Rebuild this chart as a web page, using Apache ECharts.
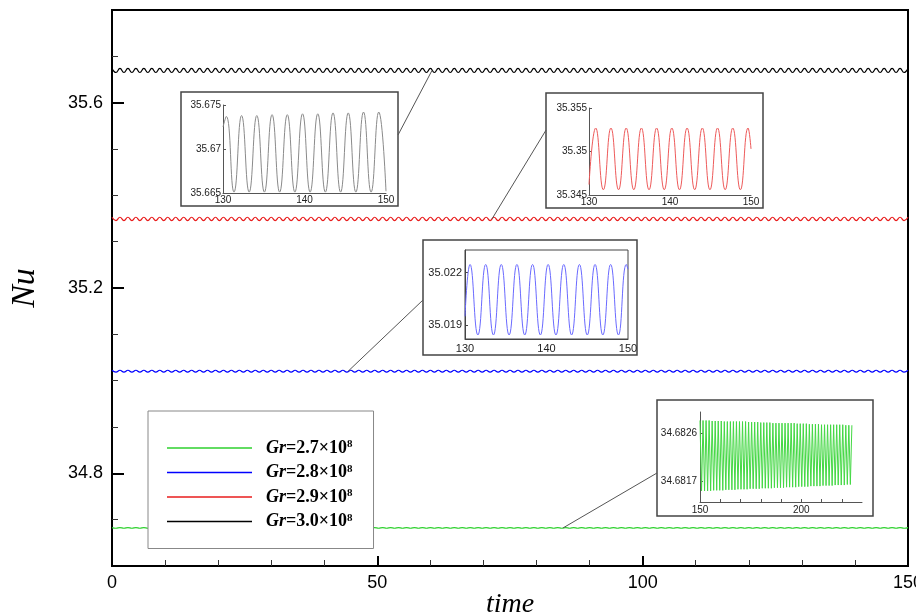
<!DOCTYPE html>
<html><head><meta charset="utf-8">
<script src="https://cdn.jsdelivr.net/npm/echarts@6/dist/echarts.min.js"></script>
<style>html,body{margin:0;padding:0;background:#fff}#c{width:916px;height:614px}</style>
</head><body><div id="c"></div>
<script>
// ---------- DATA ----------
const seriesNames = ['Gr=2.7×10^8', 'Gr=2.8×10^8', 'Gr=2.9×10^8', 'Gr=3.0×10^8'];
const grLabels = ['2.7', '2.8', '2.9', '3.0'];

const mainXTicks = [0, 50, 100, 150];
const mainYLabels = [34.8, 35.2, 35.6];
const mainYMinor = [34.7, 34.9, 35.0, 35.1, 35.3, 35.4, 35.5, 35.7];

const mainTime = [
0,0.75,1.5,2.25,3,3.75,4.5,5.25,
6,6.75,7.5,8.25,9,9.75,10.5,11.25,
12,12.75,13.5,14.25,15,15.75,16.5,17.25,
18,18.75,19.5,20.25,21,21.75,22.5,23.25,
24,24.75,25.5,26.25,27,27.75,28.5,29.25,
30,30.75,31.5,32.25,33,33.75,34.5,35.25,
36,36.75,37.5,38.25,39,39.75,40.5,41.25,
42,42.75,43.5,44.25,45,45.75,46.5,47.25,
48,48.75,49.5,50.25,51,51.75,52.5,53.25,
54,54.75,55.5,56.25,57,57.75,58.5,59.25,
60,60.75,61.5,62.25,63,63.75,64.5,65.25,
66,66.75,67.5,68.25,69,69.75,70.5,71.25,
72,72.75,73.5,74.25,75,75.75,76.5,77.25,
78,78.75,79.5,80.25,81,81.75,82.5,83.25,
84,84.75,85.5,86.25,87,87.75,88.5,89.25,
90,90.75,91.5,92.25,93,93.75,94.5,95.25,
96,96.75,97.5,98.25,99,99.75,100.5,101.25,
102,102.75,103.5,104.25,105,105.75,106.5,107.25,
108,108.75,109.5,110.25,111,111.75,112.5,113.25,
114,114.75,115.5,116.25,117,117.75,118.5,119.25,
120,120.75,121.5,122.25,123,123.75,124.5,125.25,
126,126.75,127.5,128.25,129,129.75,130.5,131.25,
132,132.75,133.5,134.25,135,135.75,136.5,137.25,
138,138.75,139.5,140.25,141,141.75,142.5,143.25,
144,144.75,145.5,146.25,147,147.75,148.5,149.25,
150];

const greenMain = [
34.6828,34.6815,34.6828,34.6815,34.6828,34.6815,34.6828,34.6815,
34.6828,34.6815,34.6828,34.6815,34.6828,34.6815,34.6828,34.6815,
34.6828,34.6815,34.6828,34.6815,34.6828,34.6815,34.6828,34.6815,
34.6828,34.6815,34.6828,34.6815,34.6828,34.6815,34.6828,34.6815,
34.6828,34.6815,34.6828,34.6815,34.6828,34.6815,34.6828,34.6815,
34.6828,34.6815,34.6828,34.6815,34.6828,34.6815,34.6828,34.6815,
34.6828,34.6815,34.6828,34.6815,34.6828,34.6815,34.6828,34.6815,
34.6828,34.6815,34.6828,34.6815,34.6828,34.6815,34.6828,34.6815,
34.6828,34.6815,34.6828,34.6815,34.6828,34.6815,34.6828,34.6815,
34.6828,34.6815,34.6828,34.6815,34.6828,34.6815,34.6828,34.6815,
34.6828,34.6815,34.6828,34.6815,34.6828,34.6815,34.6828,34.6815,
34.6828,34.6815,34.6828,34.6815,34.6828,34.6815,34.6828,34.6815,
34.6828,34.6815,34.6828,34.6815,34.6828,34.6815,34.6828,34.6815,
34.6828,34.6815,34.6828,34.6815,34.6828,34.6815,34.6828,34.6815,
34.6828,34.6815,34.6828,34.6815,34.6828,34.6815,34.6828,34.6815,
34.6828,34.6815,34.6828,34.6815,34.6828,34.6815,34.6828,34.6815,
34.6828,34.6815,34.6828,34.6815,34.6828,34.6815,34.6828,34.6815,
34.6828,34.6815,34.6828,34.6815,34.6828,34.6815,34.6828,34.6815,
34.6828,34.6815,34.6828,34.6815,34.6828,34.6815,34.6828,34.6815,
34.6828,34.6815,34.6828,34.6815,34.6828,34.6815,34.6828,34.6815,
34.6828,34.6815,34.6828,34.6815,34.6828,34.6815,34.6828,34.6815,
34.6828,34.6815,34.6828,34.6815,34.6828,34.6815,34.6828,34.6815,
34.6828,34.6815,34.6828,34.6815,34.6828,34.6815,34.6828,34.6815,
34.6828,34.6815,34.6828,34.6815,34.6828,34.6815,34.6828,34.6815,
34.6828,34.6815,34.6828,34.6815,34.6828,34.6815,34.6828,34.6815,
34.6828];

const blueMain = [
35.0225,35.0184,35.0225,35.0184,35.0225,35.0184,35.0225,35.0184,
35.0225,35.0184,35.0225,35.0184,35.0225,35.0184,35.0225,35.0184,
35.0225,35.0184,35.0225,35.0184,35.0225,35.0184,35.0225,35.0184,
35.0225,35.0184,35.0225,35.0184,35.0225,35.0184,35.0225,35.0184,
35.0225,35.0184,35.0225,35.0184,35.0225,35.0184,35.0225,35.0184,
35.0225,35.0184,35.0225,35.0184,35.0225,35.0184,35.0225,35.0184,
35.0225,35.0184,35.0225,35.0184,35.0225,35.0184,35.0225,35.0184,
35.0225,35.0184,35.0225,35.0184,35.0225,35.0184,35.0225,35.0184,
35.0225,35.0184,35.0225,35.0184,35.0225,35.0184,35.0225,35.0184,
35.0225,35.0184,35.0225,35.0184,35.0225,35.0184,35.0225,35.0184,
35.0225,35.0184,35.0225,35.0184,35.0225,35.0184,35.0225,35.0184,
35.0225,35.0184,35.0225,35.0184,35.0225,35.0184,35.0225,35.0184,
35.0225,35.0184,35.0225,35.0184,35.0225,35.0184,35.0225,35.0184,
35.0225,35.0184,35.0225,35.0184,35.0225,35.0184,35.0225,35.0184,
35.0225,35.0184,35.0225,35.0184,35.0225,35.0184,35.0225,35.0184,
35.0225,35.0184,35.0225,35.0184,35.0225,35.0184,35.0225,35.0184,
35.0225,35.0184,35.0225,35.0184,35.0225,35.0184,35.0225,35.0184,
35.0225,35.0184,35.0225,35.0184,35.0225,35.0184,35.0225,35.0184,
35.0225,35.0184,35.0225,35.0184,35.0225,35.0184,35.0225,35.0184,
35.0225,35.0184,35.0225,35.0184,35.0225,35.0184,35.0225,35.0184,
35.0225,35.0184,35.0225,35.0184,35.0225,35.0184,35.0225,35.0184,
35.0225,35.0184,35.0225,35.0184,35.0225,35.0184,35.0225,35.0184,
35.0225,35.0184,35.0225,35.0184,35.0225,35.0184,35.0225,35.0184,
35.0225,35.0184,35.0225,35.0184,35.0225,35.0184,35.0225,35.0184,
35.0225,35.0184,35.0225,35.0184,35.0225,35.0184,35.0225,35.0184,
35.0225];

const redMain = [
35.3527,35.3456,35.3527,35.3456,35.3527,35.3456,35.3527,35.3456,
35.3527,35.3456,35.3527,35.3456,35.3527,35.3456,35.3527,35.3456,
35.3527,35.3456,35.3527,35.3456,35.3527,35.3456,35.3527,35.3456,
35.3527,35.3456,35.3527,35.3456,35.3527,35.3456,35.3527,35.3456,
35.3527,35.3456,35.3527,35.3456,35.3527,35.3456,35.3527,35.3456,
35.3527,35.3456,35.3527,35.3456,35.3527,35.3456,35.3527,35.3456,
35.3527,35.3456,35.3527,35.3456,35.3527,35.3456,35.3527,35.3456,
35.3527,35.3456,35.3527,35.3456,35.3527,35.3456,35.3527,35.3456,
35.3527,35.3456,35.3527,35.3456,35.3527,35.3456,35.3527,35.3456,
35.3527,35.3456,35.3527,35.3456,35.3527,35.3456,35.3527,35.3456,
35.3527,35.3456,35.3527,35.3456,35.3527,35.3456,35.3527,35.3456,
35.3527,35.3456,35.3527,35.3456,35.3527,35.3456,35.3527,35.3456,
35.3527,35.3456,35.3527,35.3456,35.3527,35.3456,35.3527,35.3456,
35.3527,35.3456,35.3527,35.3456,35.3527,35.3456,35.3527,35.3456,
35.3527,35.3456,35.3527,35.3456,35.3527,35.3456,35.3527,35.3456,
35.3527,35.3456,35.3527,35.3456,35.3527,35.3456,35.3527,35.3456,
35.3527,35.3456,35.3527,35.3456,35.3527,35.3456,35.3527,35.3456,
35.3527,35.3456,35.3527,35.3456,35.3527,35.3456,35.3527,35.3456,
35.3527,35.3456,35.3527,35.3456,35.3527,35.3456,35.3527,35.3456,
35.3527,35.3456,35.3527,35.3456,35.3527,35.3456,35.3527,35.3456,
35.3527,35.3456,35.3527,35.3456,35.3527,35.3456,35.3527,35.3456,
35.3527,35.3456,35.3527,35.3456,35.3527,35.3456,35.3527,35.3456,
35.3527,35.3456,35.3527,35.3456,35.3527,35.3456,35.3527,35.3456,
35.3527,35.3456,35.3527,35.3456,35.3527,35.3456,35.3527,35.3456,
35.3527,35.3456,35.3527,35.3456,35.3527,35.3456,35.3527,35.3456,
35.3527];

const blackMain = [
35.6740,35.6651,35.6740,35.6651,35.6740,35.6651,35.6740,35.6651,
35.6740,35.6651,35.6740,35.6651,35.6740,35.6651,35.6740,35.6651,
35.6740,35.6651,35.6740,35.6651,35.6740,35.6651,35.6740,35.6651,
35.6740,35.6651,35.6740,35.6651,35.6740,35.6651,35.6740,35.6651,
35.6740,35.6651,35.6740,35.6651,35.6740,35.6651,35.6740,35.6651,
35.6740,35.6651,35.6740,35.6651,35.6740,35.6651,35.6740,35.6651,
35.6740,35.6651,35.6740,35.6651,35.6740,35.6651,35.6740,35.6651,
35.6740,35.6651,35.6740,35.6651,35.6740,35.6651,35.6740,35.6651,
35.6740,35.6651,35.6740,35.6651,35.6740,35.6651,35.6740,35.6651,
35.6740,35.6651,35.6740,35.6651,35.6740,35.6651,35.6740,35.6651,
35.6740,35.6651,35.6740,35.6651,35.6740,35.6651,35.6740,35.6651,
35.6740,35.6651,35.6740,35.6651,35.6740,35.6651,35.6740,35.6651,
35.6740,35.6651,35.6740,35.6651,35.6740,35.6651,35.6740,35.6651,
35.6740,35.6651,35.6740,35.6651,35.6740,35.6651,35.6740,35.6651,
35.6740,35.6651,35.6740,35.6651,35.6740,35.6651,35.6740,35.6651,
35.6740,35.6651,35.6740,35.6651,35.6740,35.6651,35.6740,35.6651,
35.6740,35.6651,35.6740,35.6651,35.6740,35.6651,35.6740,35.6651,
35.6740,35.6651,35.6740,35.6651,35.6740,35.6651,35.6740,35.6651,
35.6740,35.6651,35.6740,35.6651,35.6740,35.6651,35.6740,35.6651,
35.6740,35.6651,35.6740,35.6651,35.6740,35.6651,35.6740,35.6651,
35.6740,35.6651,35.6740,35.6651,35.6740,35.6651,35.6740,35.6651,
35.6740,35.6651,35.6740,35.6651,35.6740,35.6651,35.6740,35.6651,
35.6740,35.6651,35.6740,35.6651,35.6740,35.6651,35.6740,35.6651,
35.6740,35.6651,35.6740,35.6651,35.6740,35.6651,35.6740,35.6651,
35.6740,35.6651,35.6740,35.6651,35.6740,35.6651,35.6740,35.6651,
35.6740];

// inset: Gr=3.0e8 (black)
const blackInsetTime = [130,130.41,131.35,132.28,133.21,134.15,135.08,136.02,136.95,137.89,138.82,139.76,140.69,141.63,142.56,143.5,144.43,145.37,146.3,147.24,148.17,149.11,150];
const blackInsetNu = [35.6725,35.6737,35.6651,35.6738,35.6651,35.6738,35.6651,35.6739,35.6651,35.6739,35.6651,35.6740,35.6651,35.6740,35.6651,35.6741,35.6651,35.6741,35.6651,35.6742,35.6651,35.6742,35.6652];

// inset: Gr=2.9e8 (red)
const redInsetTime = [130,130.83,131.77,132.71,133.65,134.59,135.53,136.47,137.41,138.35,139.29,140.23,141.17,142.11,143.05,143.99,144.93,145.87,146.81,147.75,148.69,149.63,150];
const redInsetNu = [35.3462,35.3527,35.3456,35.3527,35.3456,35.3527,35.3456,35.3527,35.3456,35.3527,35.3456,35.3527,35.3456,35.3527,35.3456,35.3527,35.3456,35.3527,35.3456,35.3527,35.3456,35.3527,35.3503];

// inset: Gr=2.8e8 (blue)
const blueInsetTime = [130,130.62,131.58,132.54,133.49,134.45,135.41,136.37,137.33,138.29,139.25,140.2,141.16,142.12,143.08,144.04,145.0,145.96,146.91,147.87,148.83,149.79,150];
const blueInsetNu = [35.0195,35.02247,35.01843,35.02247,35.01843,35.02247,35.01843,35.02247,35.01843,35.02247,35.01843,35.02247,35.01843,35.02247,35.01843,35.02247,35.01843,35.02247,35.01843,35.02247,35.01843,35.02247,35.0222];
const blueInsetYLabels = [35.019, 35.022];

// inset: Gr=2.7e8 (green)
const greenInsetTime = [
150,150.75,151.5,152.25,153,153.75,154.5,155.25,
156,156.75,157.5,158.25,159,159.75,160.5,161.25,
162,162.75,163.5,164.25,165,165.75,166.5,167.25,
168,168.75,169.5,170.25,171,171.75,172.5,173.25,
174,174.75,175.5,176.25,177,177.75,178.5,179.25,
180,180.75,181.5,182.25,183,183.75,184.5,185.25,
186,186.75,187.5,188.25,189,189.75,190.5,191.25,
192,192.75,193.5,194.25,195,195.75,196.5,197.25,
198,198.75,199.5,200.25,201,201.75,202.5,203.25,
204,204.75,205.5,206.25,207,207.75,208.5,209.25,
210,210.75,211.5,212.25,213,213.75,214.5,215.25,
216,216.75,217.5,218.25,219,219.75,220.5,221.25,
222,222.75,223.5,224.25,225];
const greenInsetNu = [
34.68284,34.68151,34.68284,34.68151,34.68284,34.68151,34.68284,34.68151,
34.68283,34.68152,34.68283,34.68152,34.68283,34.68152,34.68283,34.68152,
34.68282,34.68153,34.68282,34.68153,34.68282,34.68153,34.68282,34.68153,
34.68282,34.68154,34.68282,34.68154,34.68282,34.68154,34.68282,34.68154,
34.68281,34.68155,34.68281,34.68155,34.68281,34.68155,34.68281,34.68155,
34.68280,34.68156,34.68280,34.68156,34.68280,34.68156,34.68280,34.68156,
34.68279,34.68157,34.68279,34.68157,34.68279,34.68157,34.68279,34.68157,
34.68279,34.68158,34.68279,34.68158,34.68279,34.68158,34.68279,34.68158,
34.68278,34.68159,34.68278,34.68159,34.68278,34.68159,34.68278,34.68159,
34.68277,34.68160,34.68277,34.68160,34.68277,34.68160,34.68277,34.68160,
34.68276,34.68161,34.68276,34.68161,34.68276,34.68161,34.68276,34.68161,
34.68276,34.68162,34.68276,34.68162,34.68276,34.68162,34.68276,34.68162,
34.68275,34.68163,34.68275,34.68163,34.68275];
const greenInsetXLabels = [150, 200];
const greenInsetXTicks = [150,160,170,180,190,200,210,220];
const greenInsetYLabels = [34.6817, 34.6826];

// connector lines: [curve point, inset-box point] in main-axis data coords
const connBlack = [[60.3, 35.6695], [53.9, 35.5302]];
const connRed   = [[71.6, 35.3490], [81.8, 35.5410]];
const connBlue  = [[44.5, 35.0204], [58.6, 35.1740]];
const connGreen = [[85.0, 34.6822], [102.7, 34.8007]];

// ---------- STYLE / BUILD ----------
const SANS = 'Liberation Sans, Arial, sans-serif';
const SERIF = 'Liberation Serif, Times New Roman, serif';
const mainColors = ['#2ed12e', '#0000ff', '#e81c1c', '#000000'];
const zip = (xs, ys) => xs.map((x, i) => [x, ys[i]]);
const fmt = d => v => String(+(+v).toFixed(d));

function conn(c) {
  return {
    silent: true, symbol: ['none', 'none'], label: {show: false},
    lineStyle: {color: '#555', width: 1, type: 'solid'},
    emphasis: {disabled: true},
    data: [[{coord: c[0]}, {coord: c[1]}]]
  };
}
function insetX(gi, min, max, extra) {
  return Object.assign({
    gridIndex: gi, type: 'value', min: min, max: max, interval: 10, z: 3,
    axisLine: {show: true, lineStyle: {color: '#555', width: 1}},
    axisTick: {show: false},
    axisLabel: {fontFamily: SANS, fontSize: 10, color: '#222', margin: 2},
    splitLine: {show: false}
  }, extra || {});
}
function insetY(gi, min, max, extra) {
  return Object.assign({
    gridIndex: gi, type: 'value', min: min, max: max, z: 3,
    axisLine: {show: true, lineStyle: {color: '#555', width: 1}},
    axisTick: {show: true, inside: true, length: 3, lineStyle: {color: '#555'}},
    axisLabel: {fontFamily: SANS, fontSize: 10, color: '#222', margin: 2},
    splitLine: {show: false}
  }, extra || {});
}

const chart = echarts.init(document.getElementById('c'), null, {renderer: 'canvas'});
const option = {
  animation: false,
  backgroundColor: '#fff',
  grid: [
    {left: 112, top: 10, width: 796, height: 556, show: true, borderColor: '#000', borderWidth: 2, backgroundColor: 'transparent', outerBoundsMode: 'none', containLabel: false},
    {left: 223, top: 105, width: 163, height: 88, z: 3, outerBoundsMode: 'none'},
    {left: 589, top: 108, width: 162, height: 87, z: 3, outerBoundsMode: 'none'},
    {left: 465, top: 250, width: 163, height: 89, z: 3, show: true, borderColor: '#444', borderWidth: 1, backgroundColor: 'transparent', outerBoundsMode: 'none'},
    {left: 700, top: 412, width: 162, height: 90, z: 3, outerBoundsMode: 'none'}
  ],
  xAxis: [
    {gridIndex: 0, type: 'value', min: 0, max: 150, interval: 50,
     axisLine: {show: true, lineStyle: {color: '#000', width: 2}},
     axisTick: {show: true, inside: true, length: 10, lineStyle: {color: '#000', width: 2}},
     minorTick: {show: true, splitNumber: 5, length: 6, lineStyle: {color: '#333', width: 1}},
     axisLabel: {fontFamily: SANS, fontSize: 18, color: '#000', margin: 8},
     splitLine: {show: false}, minorSplitLine: {show: false},
     name: 'time', nameLocation: 'middle', nameGap: 25, nameMoveOverlap: false,
     nameTextStyle: {fontFamily: SERIF, fontStyle: 'italic', fontSize: 28, color: '#000'}},
    insetX(1, 130, 150),
    insetX(2, 130, 150),
    insetX(3, 130, 150, {axisLine: {show: true, lineStyle: {color: '#444', width: 1}}, axisLabel: {fontFamily: SANS, fontSize: 11, color: '#222', margin: 4}}),
    insetX(4, 150, 230, {interval: null,
      axisTick: {show: true, inside: true, length: 3, customValues: greenInsetXTicks, lineStyle: {color: '#555'}},
      axisLabel: {fontFamily: SANS, fontSize: 10, color: '#222', margin: 3, customValues: greenInsetXLabels}})
  ],
  yAxis: [
    {gridIndex: 0, type: 'value', min: 34.6, max: 35.8,
     axisLine: {show: true, lineStyle: {color: '#000', width: 2}},
     axisTick: {show: true, inside: true, length: 12, customValues: mainYLabels, lineStyle: {color: '#000', width: 2}},
     axisLabel: {fontFamily: SANS, fontSize: 18, color: '#000', margin: 9, customValues: mainYLabels, formatter: v => (+v).toFixed(1)},
     splitLine: {show: false},
     name: 'Nu', nameLocation: 'middle', nameGap: 70,
     nameTextStyle: {fontFamily: SERIF, fontStyle: 'italic', fontSize: 34, color: '#000'}},
    {gridIndex: 0, type: 'value', min: 34.6, max: 35.8, position: 'left', offset: 0,
     axisLine: {show: false},
     axisTick: {show: true, inside: true, length: 6, customValues: mainYMinor, lineStyle: {color: '#333', width: 1}},
     axisLabel: {show: false}, splitLine: {show: false}},
    insetY(1, 35.665, 35.675, {interval: 0.005, axisLabel: {fontFamily: SANS, fontSize: 10, color: '#222', margin: 2, formatter: fmt(4)}}),
    insetY(2, 35.345, 35.355, {interval: 0.005, axisLabel: {fontFamily: SANS, fontSize: 10, color: '#222', margin: 2, formatter: fmt(4)}}),
    insetY(3, 35.0182, 35.0233, {axisLine: {show: true, lineStyle: {color: '#444', width: 1}},
      axisTick: {show: true, inside: true, length: 3, customValues: blueInsetYLabels, lineStyle: {color: '#444'}},
      axisLabel: {fontFamily: SANS, fontSize: 11, color: '#222', margin: 3, customValues: blueInsetYLabels, formatter: fmt(4)}}),
    insetY(4, 34.6813, 34.6830, {
      axisTick: {show: true, inside: true, length: 3, customValues: greenInsetYLabels, lineStyle: {color: '#555'}},
      axisLabel: {fontFamily: SANS, fontSize: 10, color: '#222', margin: 3, customValues: greenInsetYLabels, formatter: fmt(5)}})
  ],
  legend: {
    data: seriesNames, orient: 'vertical', left: 148, top: 411,
    padding: [28, 21, 18, 19], itemWidth: 85, itemHeight: 1.6, itemGap: 6.5, icon: 'rect',
    backgroundColor: '#fff', borderColor: '#888', borderWidth: 1, selectedMode: false, z: 4,
    formatter: name => '{g|Gr}{n|=' + grLabels[seriesNames.indexOf(name)] + '×10}{s|8}',
    textStyle: {
      fontFamily: SERIF, fontSize: 18, color: '#000',
      rich: {
        g: {fontFamily: SERIF, fontStyle: 'italic', fontWeight: 'bold', fontSize: 18, color: '#000', padding: [0, 0, 0, 9]},
        n: {fontFamily: SERIF, fontWeight: 'bold', fontSize: 18, color: '#000'},
        s: {fontFamily: SERIF, fontWeight: 'bold', fontSize: 11, color: '#000', verticalAlign: 'top'}
      }
    }
  },
  graphic: [
    {type: 'rect', z: 1, shape: {x: 181, y: 92, width: 217, height: 114}, style: {fill: '#fff', stroke: '#444', lineWidth: 1.5}},
    {type: 'rect', z: 1, shape: {x: 546, y: 93, width: 217, height: 115}, style: {fill: '#fff', stroke: '#444', lineWidth: 1.5}},
    {type: 'rect', z: 1, shape: {x: 423, y: 240, width: 214, height: 115}, style: {fill: '#fff', stroke: '#444', lineWidth: 1.5}},
    {type: 'rect', z: 1, shape: {x: 657, y: 400, width: 216, height: 116}, style: {fill: '#fff', stroke: '#444', lineWidth: 1.5}}
  ],
  series: [
    {name: seriesNames[0], type: 'line', xAxisIndex: 0, yAxisIndex: 0, data: zip(mainTime, greenMain), symbol: 'none', smooth: true,
     lineStyle: {color: mainColors[0], width: 1.2}, itemStyle: {color: mainColors[0]}, z: 2, markLine: conn(connGreen)},
    {name: seriesNames[1], type: 'line', xAxisIndex: 0, yAxisIndex: 0, data: zip(mainTime, blueMain), symbol: 'none', smooth: true,
     lineStyle: {color: mainColors[1], width: 1.2}, itemStyle: {color: mainColors[1]}, z: 2, markLine: conn(connBlue)},
    {name: seriesNames[2], type: 'line', xAxisIndex: 0, yAxisIndex: 0, data: zip(mainTime, redMain), symbol: 'none', smooth: true,
     lineStyle: {color: mainColors[2], width: 1.2}, itemStyle: {color: mainColors[2]}, z: 2, markLine: conn(connRed)},
    {name: seriesNames[3], type: 'line', xAxisIndex: 0, yAxisIndex: 0, data: zip(mainTime, blackMain), symbol: 'none', smooth: true,
     lineStyle: {color: mainColors[3], width: 1.2}, itemStyle: {color: mainColors[3]}, z: 2, markLine: conn(connBlack)},
    {name: 'inset30', type: 'line', xAxisIndex: 1, yAxisIndex: 2, data: zip(blackInsetTime, blackInsetNu), symbol: 'none', smooth: true,
     lineStyle: {color: '#8a8a8a', width: 1}, z: 5},
    {name: 'inset29', type: 'line', xAxisIndex: 2, yAxisIndex: 3, data: zip(redInsetTime, redInsetNu), symbol: 'none', smooth: true,
     lineStyle: {color: '#ee5a5a', width: 1}, z: 5},
    {name: 'inset28', type: 'line', xAxisIndex: 3, yAxisIndex: 4, data: zip(blueInsetTime, blueInsetNu), symbol: 'none', smooth: true,
     lineStyle: {color: '#6a6aff', width: 1}, z: 5},
    {name: 'inset27', type: 'line', xAxisIndex: 4, yAxisIndex: 5, data: zip(greenInsetTime, greenInsetNu), symbol: 'none', smooth: false,
     lineStyle: {color: '#44d844', width: 1}, z: 5}
  ]
};
chart.setOption(option);
</script>
</body></html>
